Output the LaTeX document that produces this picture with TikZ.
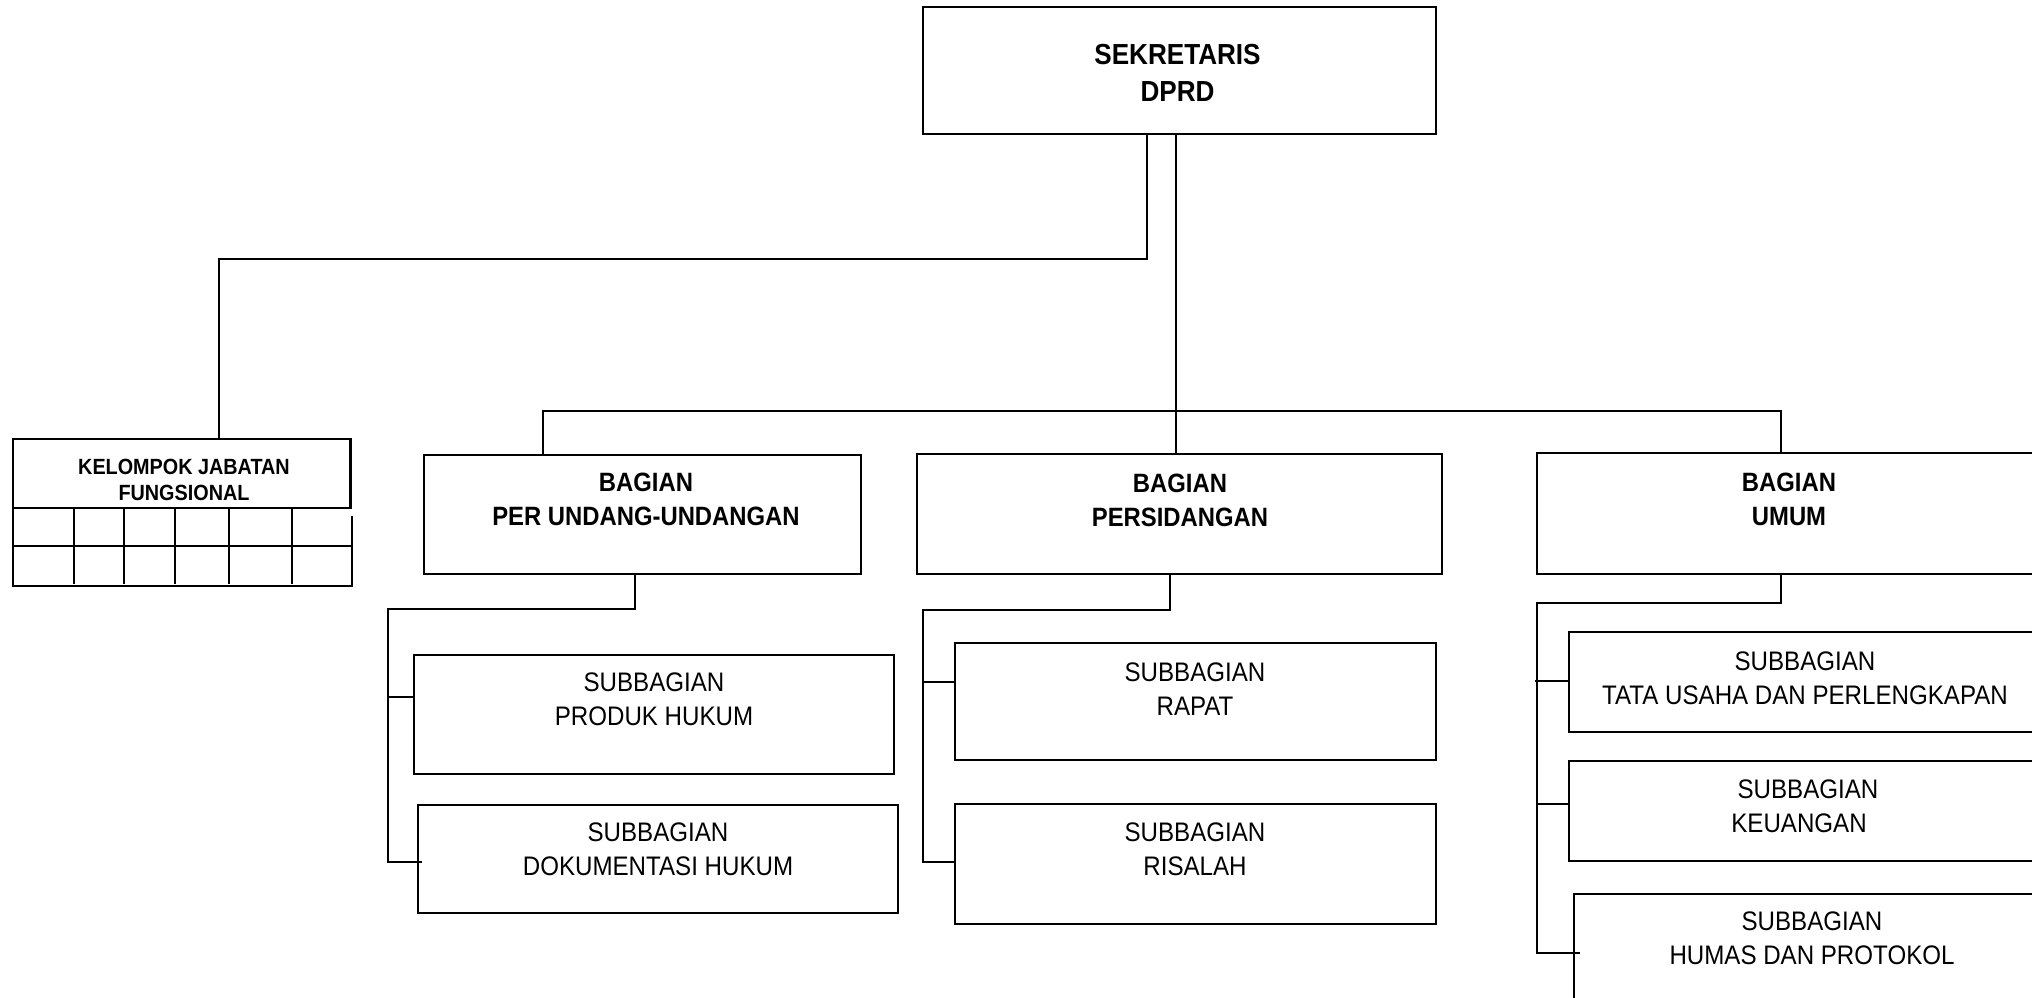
\documentclass[tikz,border=0pt]{standalone}
\usepackage{fontspec}
\setmainfont{Liberation Sans}[FakeStretch=0.9]
\usetikzlibrary{fit}
\begin{document}
\begin{tikzpicture}[x=1pt,y=-1pt,
  line width=2.2pt, line cap=rect,
  box/.style={draw=black, line width=2.2pt, inner sep=0pt, outer sep=0pt, rectangle},
  conn/.style={draw=black, line width=2.2pt},
  subtxt/.style={font=\fontsize{26.8}{33.8}\selectfont, align=center, inner sep=0pt, anchor=north},
  bagtxt/.style={font=\fontsize{26.5}{33.8}\selectfont\bfseries, align=center, inner sep=0pt, anchor=north},
  sektxt/.style={font=\fontsize{29}{37}\selectfont\bfseries, align=center, inner sep=0pt, anchor=north},
  kjftxt/.style={font=\fontsize{22}{26}\selectfont\bfseries, align=center, inner sep=0pt, anchor=north}]
\useasboundingbox (0,0) rectangle (2032,998);
\fill[white] (0,0) rectangle (2032,998);
\clip (0,0) rectangle (2032,998);

% boxes
\node[box, fit={(923,7) (1436,134)}] (sek) {};
\node[box, fit={(13,439) (350.5,508)}] (kjf) {};
\node[box, fit={(424,455) (861,574)}] (pu) {};
\node[box, fit={(917,454) (1442,574)}] (per) {};
\node[box, fit={(1537,453) (2045,574)}] (umum) {};
\node[box, fit={(414,655) (894,774)}] (ph) {};
\node[box, fit={(418,805) (898,913)}] (dh) {};
\node[box, fit={(955,643) (1436,760)}] (rap) {};
\node[box, fit={(955,804) (1436,924)}] (ris) {};
\node[box, fit={(1569,632) (2050,732)}] (tu) {};
\node[box, fit={(1569,761) (2050,861)}] (keu) {};
\node[box, fit={(1574,894) (2055,1012)}] (hum) {};

% grid under kelompok jabatan fungsional
\draw (kjf.south west) -- (13,586) -- (352,586) -- (352,517);
\draw (13,546) -- (350.5,546);
\foreach \gx in {74,124,175,229,292} \draw (\gx,508) -- (\gx,583);

% texts
\node[sektxt] (sekt) at (1177.5,43) {SEKRETARIS\\DPRD};
\node[kjftxt] (kjft) at (184,458.5) {KELOMPOK JABATAN\\FUNGSIONAL};
\node[bagtxt] (put) at (646,472) {BAGIAN\\PER UNDANG-UNDANGAN};
\node[bagtxt] (pert) at (1180,473) {BAGIAN\\PERSIDANGAN};
\node[bagtxt] (umumt) at (1789,472) {BAGIAN\\UMUM};
\node[subtxt] (pht) at (654,672) {SUBBAGIAN\\PRODUK HUKUM};
\node[subtxt] (dht) at (658,822) {SUBBAGIAN\\DOKUMENTASI HUKUM};
\node[subtxt] (rapt) at (1195,661.5) {SUBBAGIAN\\RAPAT};
\node[subtxt] (rist) at (1195,822) {SUBBAGIAN\\RISALAH};
\node[subtxt] (tut) at (1805,651) {SUBBAGIAN\\TATA USAHA DAN PERLENGKAPAN};
\node[subtxt] (keut) at (1808,779) {SUBBAGIAN\\KEUANGAN\kern18pt};
\node[subtxt] (humt) at (1812,911) {SUBBAGIAN\\HUMAS DAN PROTOKOL};

% connectors from sekretaris
\coordinate (k1) at (1147,259);
\coordinate (k2) at (219,259);
\draw[conn] (sek.south -| k1) -- (k1) -- (k2) -- (kjf.north -| k2);

\coordinate (b0) at (1176,411);
\coordinate (bl) at (543,411);
\coordinate (br) at (1781,411);
\draw[conn] (sek.south -| b0) -- (b0) -- (per.north -| b0);
\draw[conn] (pu.north -| bl) -- (bl) -- (br) -- (umum.north -| br);

% per undang-undangan
\coordinate (p1) at (635,609);
\coordinate (p2) at (388,609);
\coordinate (p3) at (388,862);
\coordinate (p4) at (421,862);
\draw[conn] (pu.south -| p1) -- (p1) -- (p2) -- (p3) -- (p4);
\draw[conn] (388,697) -- (ph.west |- 0,697);

% persidangan
\coordinate (q1) at (1170,610);
\coordinate (q2) at (923,610);
\coordinate (q3) at (923,862);
\draw[conn] (per.south -| q1) -- (q1) -- (q2) -- (q3) -- (ris.west |- q3);
\draw[conn] (923,682) -- (rap.west |- 0,682);

% umum
\coordinate (u1) at (1781,603);
\coordinate (u2) at (1537,603);
\coordinate (u3) at (1537,953);
\coordinate (u4) at (1579,953);
\draw[conn] (umum.south -| u1) -- (u1) -- (u2) -- (u3) -- (u4);
\draw[conn] (1536,681) -- (tu.west |- 0,681);
\draw[conn] (1537,804) -- (keu.west |- 0,804);
\end{tikzpicture}
\end{document}
